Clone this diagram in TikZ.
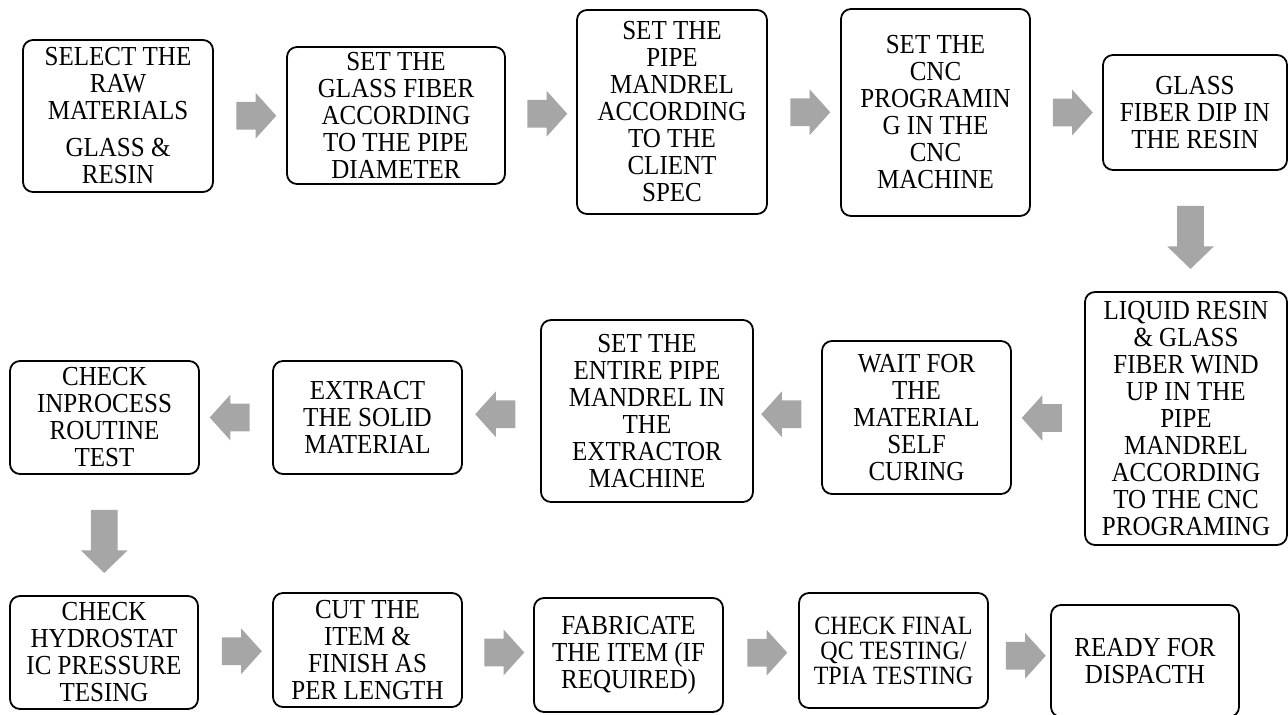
\documentclass[tikz,border=0pt]{standalone}
\usepackage{fontspec}
\setmainfont{Liberation Serif}[FakeStretch=0.91]
\usepackage{tikz}
\usetikzlibrary{shapes.arrows,calc}
\definecolor{arrowgray}{HTML}{A6A6A6}

\begin{document}
\begin{tikzpicture}[x=0.5pt,y=-0.5pt,line join=round,
  box/.style={draw,rounded corners=5pt,line width=0.9pt,align=center,inner sep=0pt,font=\fontsize{13.75}{13.5}\selectfont},
  harr/.style={single arrow,fill=arrowgray,draw=none,inner sep=0pt,text height=13.5pt,text depth=0pt,text width=0pt,minimum height=20pt,single arrow head extend=4.5pt,single arrow tip angle=96},
  varr/.style={single arrow,fill=arrowgray,draw=none,inner sep=0pt,text height=13pt,text depth=0pt,text width=0pt,minimum height=31.5pt,single arrow head extend=5pt,single arrow tip angle=92,rotate=-90}]
  \useasboundingbox (0,0) rectangle (1288,715);
  % first row, left to right
  \node[box,minimum width=95pt,minimum height=76pt] (sel) at (118,116) {SELECT THE\\RAW\\MATERIALS\\[5pt]GLASS \&\\RESIN};
  \node[box,minimum width=109pt,minimum height=68.5pt] (glass) at (396,115.5) {SET THE\\GLASS FIBER\\ACCORDING\\TO THE PIPE\\DIAMETER};
  \node[box,minimum width=95pt,minimum height=102pt] (mandrel) at (672,112) {SET THE\\PIPE\\MANDREL\\ACCORDING\\TO THE\\CLIENT\\SPEC};
  \node[box,minimum width=94.5pt,minimum height=103.5pt] (cnc) at (935.5,112.5) {SET THE\\CNC\\PROGRAMIN\\G IN THE\\CNC\\MACHINE};
  \node[box,minimum width=92pt,minimum height=57.5pt] (dip) at (1195,112.5) {GLASS\\FIBER DIP IN\\THE RESIN};
  % second row, right to left
  \node[box,minimum width=101pt,minimum height=126.5pt] (wind) at (1186,418.5) {LIQUID RESIN\\\& GLASS\\FIBER WIND\\UP IN THE\\PIPE\\MANDREL\\ACCORDING\\TO THE CNC\\PROGRAMING};
  \node[box,minimum width=94.5pt,minimum height=76.5pt] (wait) at (916.5,417.5) {WAIT FOR\\THE\\MATERIAL\\SELF\\CURING};
  \node[box,minimum width=106pt,minimum height=91pt] (entire) at (647,411) {SET THE\\ENTIRE PIPE\\MANDREL IN\\THE\\EXTRACTOR\\MACHINE};
  \node[box,minimum width=94.5pt,minimum height=56.5pt] (extract) at (367.5,417.5) {EXTRACT\\THE SOLID\\MATERIAL};
  \node[box,minimum width=94.5pt,minimum height=56.5pt] (inproc) at (104.5,417.5) {CHECK\\INPROCESS\\ROUTINE\\TEST};
  % third row, left to right
  \node[box,minimum width=94pt,minimum height=56.5pt] (hydro) at (104,652.5) {CHECK\\HYDROSTAT\\IC PRESSURE\\TESING};
  \node[box,minimum width=94.5pt,minimum height=57pt] (cut) at (367.5,650) {CUT THE\\ITEM \&\\FINISH AS\\PER LENGTH};
  \node[box,minimum width=94.5pt,minimum height=57pt] (fab) at (628.5,655) {FABRICATE\\THE ITEM (IF\\REQUIRED)};
  \node[box,minimum width=94.5pt,minimum height=57.5pt,font=\fontsize{13.2}{12.5}\selectfont] (final) at (893.5,650.5) {CHECK FINAL\\QC TESTING/\\TPIA TESTING};
  \node[box,minimum width=94pt,minimum height=56pt] (ready) at (1145,661) {READY FOR\\DISPACTH};
  % block arrows
  \foreach \a/\b in {sel/glass,glass/mandrel,mandrel/cnc,cnc/dip,hydro/cut,cut/fab,fab/final,final/ready}
    \node[harr] (go\a) at ($(\a.east)!0.5!(\b.west)$) {};
  \foreach \a/\b in {wind/wait,wait/entire,entire/extract,extract/inproc}
    \node[harr,rotate=180] (go\a) at ($(\a.west)!0.5!(\b.east)$) {};
  \foreach \a/\b in {dip/wind,inproc/hydro}
    \node[varr] (go\a) at ($(\a.south)!0.5!(\b.north)$) {};
\end{tikzpicture}
\end{document}
